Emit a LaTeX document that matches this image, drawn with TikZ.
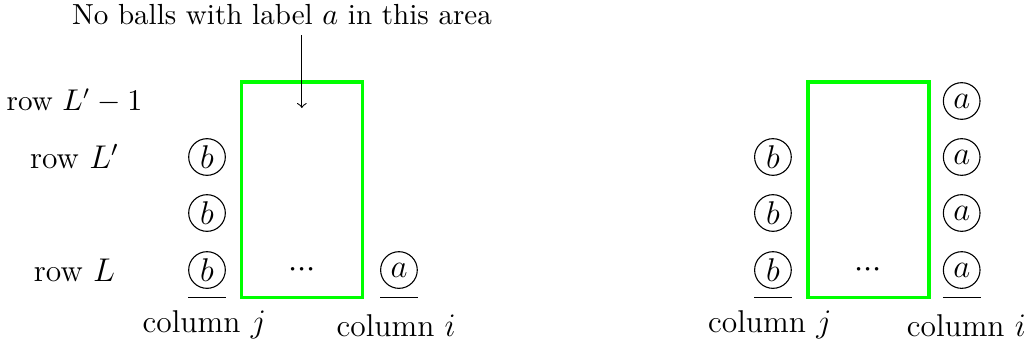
\documentclass[tikz,border=0pt]{standalone}
\usetikzlibrary{positioning}
\begin{document}
\begin{tikzpicture}[
    font=\fontsize{11.5pt}{14pt}\selectfont,
    small/.style={font=\fontsize{10.6pt}{13pt}\selectfont},
    ball/.style={circle, draw, inner sep=0pt, minimum size=0.47cm},
    box/.style={draw=green, line width=1.2pt}
]
    \useasboundingbox (0,0) rectangle (13.18,-4.45);

    % --- LEFT FIGURE ---

    % Green area
    \coordinate (L_TL) at (3.10,-1.05);
    \coordinate (L_BR) at (4.65,-3.81);
    \draw[box] (L_TL) rectangle (L_BR);
    \node (L_dots) at (3.87,-3.46) {${\cdot}{\cdot}{\cdot}$};

    % Title and arrow into the area
    \node[small] (title) at (3.615,-0.19) {No balls with label $a$ in this area};
    \coordinate (L_top) at (3.87,-0.45);
    \coordinate (L_hint) at (3.87,-1.385);
    \draw[->] (L_top) -- (L_hint);

    % Row labels
    \node[small] (row_top) at (0.955,-1.295) {row $L'-1$};
    \node (row_Lp) at (0.955,-2.013) {row $L'$};
    \node (row_L) at (0.955,-3.462) {row $L$};

    % Balls
    \node[ball] (L_b3) at (2.654,-2.013) {$b$};
    \node[ball] (L_b2) at (2.654,-2.731) {$b$};
    \node[ball] (L_b1) at (2.654,-3.462) {$b$};
    \node[ball] (L_a1) at (5.115,-3.462) {$a$};

    % Underlines and column labels
    \draw (L_b1.west |- L_BR) -- (L_b1.east |- L_BR);
    \draw (L_a1.west |- L_BR) -- (L_a1.east |- L_BR);
    \node (L_colj) at (2.62,-4.17) {column $j$};
    \node (L_coli) at (5.08,-4.17) {column $i$};


    % --- RIGHT FIGURE ---

    % Green area
    \coordinate (R_TL) at (10.36,-1.05);
    \coordinate (R_BR) at (11.91,-3.81);
    \draw[box] (R_TL) rectangle (R_BR);
    \node (R_dots) at (11.13,-3.46) {${\cdot}{\cdot}{\cdot}$};

    % Balls
    \node[ball] (R_b3) at (9.91,-2.013) {$b$};
    \node[ball] (R_b2) at (9.91,-2.731) {$b$};
    \node[ball] (R_b1) at (9.91,-3.462) {$b$};
    \node[ball] (R_a4) at (12.33,-1.295) {$a$};
    \node[ball] (R_a3) at (12.33,-2.013) {$a$};
    \node[ball] (R_a2) at (12.33,-2.731) {$a$};
    \node[ball] (R_a1) at (12.33,-3.462) {$a$};

    % Underlines and column labels
    \draw (R_b1.west |- R_BR) -- (R_b1.east |- R_BR);
    \draw (R_a1.west |- R_BR) -- (R_a1.east |- R_BR);
    \node (R_colj) at (9.87,-4.17) {column $j$};
    \node (R_coli) at (12.39,-4.17) {column $i$};

\end{tikzpicture}
\end{document}
